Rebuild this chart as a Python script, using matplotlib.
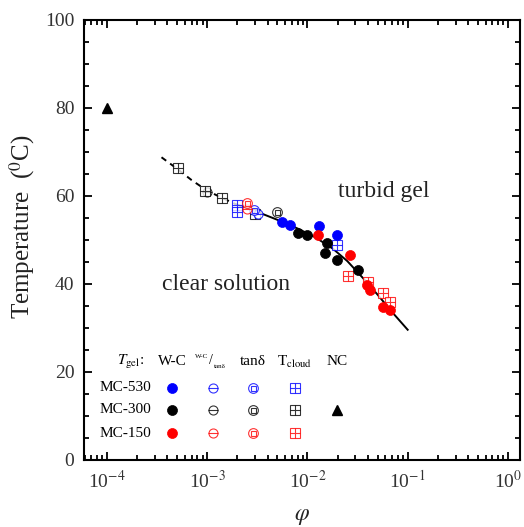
import matplotlib
matplotlib.use("Agg")
import matplotlib.pyplot as plt

plt.rcParams['font.family'] = ['Liberation Serif', 'DejaVu Serif']
plt.rcParams['mathtext.fontset'] = 'stix'

# ---- data ----
# fitted curve (dashed extrapolation + solid part)
dash_x = [3.5e-4, 5e-4, 7e-4, 1e-3, 1.4e-3, 1.9e-3]
dash_y = [68.8, 66.2, 63.6, 61.2, 59.6, 58.2]
fit_x = [1.9e-3, 3e-3, 5e-3, 8e-3, 0.012, 0.018, 0.025, 0.035, 0.05, 0.07, 0.1]
fit_y = [58.2, 56.6, 54.6, 52.6, 50.6, 48.0, 45.2, 41.6, 37.6, 33.6, 29.6]

# MC-530 (blue)
b_wc_x = [5.6e-3, 6.7e-3, 0.013, 0.0196]
b_wc_y = [54.1, 53.4, 53.2, 51.1]
b_th_x = [3.2e-3]
b_th_y = [56.0]
b_td_x = [2.9e-3]
b_td_y = [56.8]
b_cl_x = [2.0e-3, 2.0e-3, 0.0196]
b_cl_y = [58.0, 56.4, 48.9]

# MC-300 (black)
k_wc_x = [8.0e-3, 9.9e-3, 0.0156, 0.0149, 0.0196, 0.0318]
k_wc_y = [51.6, 51.1, 49.3, 47.0, 45.5, 43.2]
k_th_x = [1.0e-3]
k_th_y = [60.8]
k_td_x = [5.0e-3]
k_td_y = [56.4]
k_cl_x = [5.1e-4, 9.5e-4, 1.4e-3, 3.0e-3]
k_cl_y = [66.4, 61.2, 59.5, 55.8]
nc_x = [1e-4]
nc_y = [80]

# MC-150 (red)
r_wc_x = [0.0127, 0.0265, 0.039, 0.042, 0.0565, 0.066]
r_wc_y = [51.1, 46.6, 39.8, 38.6, 34.8, 34.1]
r_th_x = [2.5e-3]
r_th_y = [57.0]
r_td_x = [2.5e-3]
r_td_y = [58.4]
r_cl_x = [0.0253, 0.040, 0.0565, 0.066]
r_cl_y = [41.8, 40.5, 38.0, 35.9]

x_ticks = [1e-4, 1e-3, 1e-2, 1e-1, 1e0]
x_ticklabels = [r'10$^{-4}$', r'10$^{-3}$', r'10$^{-2}$', r'10$^{-1}$', r'10$^{0}$']
y_ticks = [0, 20, 40, 60, 80, 100]

row_labels = ['MC-530', 'MC-300', 'MC-150']
row_colors = ['#0000ff', '#000000', '#ff0000']

# ---- figure ----
fig = plt.figure(figsize=(5.24, 5.27), dpi=100)
ax = fig.add_axes([84/524, 1-460/527, 436/524, 440/527])
ax.set_xscale('log')
ax.set_xlim(5.9e-5, 1.32)
ax.set_ylim(0, 100)

ax.plot(dash_x, dash_y, color='black', lw=1.4, ls=(0, (3, 2.5)), zorder=2)
ax.plot(fit_x, fit_y, color='black', lw=1.4, zorder=2)


def filled(x, y, c, trans=None):
    kw = {} if trans is None else {'transform': trans, 'clip_on': False}
    ax.plot(x, y, 'o', ms=7.2, mfc=c, mec=c, mew=0.5, ls='none', zorder=4, **kw)


def theta(x, y, c, trans=None):
    kw = {} if trans is None else {'transform': trans, 'clip_on': False}
    ax.plot(x, y, 'o', ms=6.5, mfc='white', mec=c, mew=0.8, ls='none', alpha=0.8, zorder=3, **kw)
    ax.plot(x, y, '_', ms=6.5, mec=c, mew=0.8, ls='none', alpha=0.8, zorder=3, **kw)


def tand(x, y, c, trans=None):
    kw = {} if trans is None else {'transform': trans, 'clip_on': False}
    ax.plot(x, y, 'o', ms=7, mfc='white', mec=c, mew=0.8, ls='none', alpha=0.8, zorder=3, **kw)
    ax.plot(x, y, 's', ms=3.6, mfc='none', mec=c, mew=0.8, ls='none', alpha=0.8, zorder=3, **kw)


def cloud(x, y, c, trans=None):
    kw = {} if trans is None else {'transform': trans, 'clip_on': False}
    ax.plot(x, y, 's', ms=6.5, mfc='white', mec=c, mew=0.8, ls='none', alpha=0.8, zorder=3, **kw)
    ax.plot(x, y, '+', ms=6.5, mec=c, mew=0.8, ls='none', alpha=0.8, zorder=3, **kw)


# data markers
theta(k_th_x, k_th_y, 'black'); tand(k_td_x, k_td_y, 'black'); cloud(k_cl_x, k_cl_y, 'black')
theta(b_th_x, b_th_y, 'blue'); tand(b_td_x, b_td_y, 'blue'); cloud(b_cl_x, b_cl_y, 'blue')
theta(r_th_x, r_th_y, 'red'); tand(r_td_x, r_td_y, 'red'); cloud(r_cl_x, r_cl_y, 'red')
filled(b_wc_x, b_wc_y, '#0000ff')
filled(k_wc_x, k_wc_y, 'black')
filled(r_wc_x, r_wc_y, '#ff0000')
ax.plot(nc_x, nc_y, '^', ms=7.5, color='black', ls='none', zorder=4)

# region labels
ax.text(0.058, 61.0, 'turbid gel', fontsize=17, ha='center', va='center', color='#222222')
ax.text(1.55e-3, 39.8, 'clear solution', fontsize=17, ha='center', va='center', color='#222222')

# hand-made legend (axes fraction layout)
T = ax.transAxes
hdr_y = 0.223
row_y = [0.164, 0.114, 0.061]
col_x = [0.202, 0.296, 0.388, 0.484, 0.580]
ax.text(0.106, hdr_y, r'$T_{\rm gel}$:', transform=T, fontsize=11, ha='center', va='center')
ax.text(col_x[0], hdr_y, 'W-C', transform=T, fontsize=11, ha='center', va='center')
ax.text(col_x[1] - 0.010, hdr_y + 0.012, 'W-C', transform=T, fontsize=5, ha='right', va='center')
ax.text(col_x[1] - 0.004, hdr_y + 0.004, '/', transform=T, fontsize=10, ha='center', va='center')
ax.text(col_x[1] + 0.002, hdr_y - 0.011, 'tanδ', transform=T, fontsize=5, ha='left', va='center')
ax.text(col_x[2], hdr_y, 'tanδ', transform=T, fontsize=11, ha='center', va='center')
ax.text(col_x[3], hdr_y, r'T$_{\rm cloud}$', transform=T, fontsize=11, ha='center', va='center')
ax.text(col_x[4], hdr_y, 'NC', transform=T, fontsize=11, ha='center', va='center')
for lab, yy, c in zip(row_labels, row_y, row_colors):
    ax.text(0.096, yy, lab, transform=T, fontsize=11, ha='center', va='center')
    filled([col_x[0]], [yy], c, T)
    theta([col_x[1]], [yy], c, T)
    tand([col_x[2]], [yy], c, T)
    cloud([col_x[3]], [yy], c, T)
ax.plot([col_x[4]], [row_y[1]], '^', ms=7.5, color='black', transform=T, clip_on=False, zorder=4)

# axes styling
ax.set_xticks(x_ticks)
ax.set_xticklabels(x_ticklabels)
ax.set_yticks(y_ticks)
ax.set_yticks(range(0, 101, 5), minor=True)
ax.tick_params(which='both', direction='in', top=True, right=True, labelsize=14, width=1.3)
ax.tick_params(which='major', length=6, pad=7)
ax.tick_params(which='minor', length=3.5)
for s in ax.spines.values():
    s.set_linewidth(1.5)
for lbl in ax.get_xticklabels() + ax.get_yticklabels():
    lbl.set_color('#333333')

ax.set_ylabel(r'Temperature  ($^{0}$C)', fontsize=18, labelpad=3, color='#222222')
ax.yaxis.set_label_coords(-0.108, 0.53)
ax.set_xlabel(r'$\varphi$', fontsize=17, labelpad=10, color='#222222')

fig.savefig('out.png', dpi=100)
